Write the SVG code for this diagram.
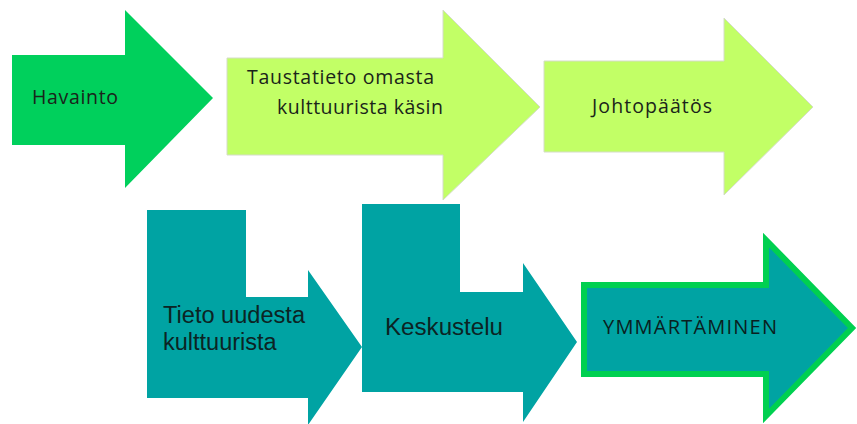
<svg xmlns="http://www.w3.org/2000/svg" width="857" height="424" viewBox="0 0 857 424">
<style>
.dg{fill:#00d05c}
.lg{fill:#c2ff66;stroke:#d4dcc8;stroke-width:1}
.tl{fill:#00a3a3}
.tl2{fill:#00a3a3;stroke:#00d050;stroke-width:6;stroke-linejoin:miter}
.t1{font-family:"Open Sans","DejaVu Sans",sans-serif;font-size:19.5px;fill:#1a241a}
.t2{font-family:"Liberation Sans",Arial,sans-serif;font-size:23.5px;fill:#0c2424}
.t3{font-family:"Open Sans","DejaVu Sans",sans-serif;font-size:20px;fill:#0a2020}
</style>
<rect width="857" height="424" fill="#ffffff"/>
<g id="connectors"/>
<g id="havainto">
<polygon class="dg" points="12,55 125,55 125,10 213,98 125,188 125,145 12,145"/>
<text class="t1" x="32" y="104" textLength="86" lengthAdjust="spacing">Havainto</text>
</g>
<g id="taustatieto">
<polygon class="lg" points="227,58 443,58 443,10 540,107 443,200 443,155 227,155"/>
<text class="t1" x="247" y="84" textLength="187" lengthAdjust="spacing">Taustatieto omasta</text>
<text class="t1" x="277" y="114" textLength="166" lengthAdjust="spacing">kulttuurista käsin</text>
</g>
<g id="johtopaatos">
<polygon class="lg" points="544,61 724,61 724,18 813,107 724,195 724,152 544,152"/>
<text class="t1" x="592" y="113" textLength="120" lengthAdjust="spacing">Johtopäätös</text>
</g>
<g id="tieto-uudesta">
<polygon class="tl" points="147,210 246,210 246,297 308,297 308,270 362,347 308,425 308,398 147,398"/>
<text class="t2" x="163" y="323" textLength="142" lengthAdjust="spacingAndGlyphs">Tieto uudesta</text>
<text class="t2" x="163" y="350">kulttuurista</text>
</g>
<g id="keskustelu">
<polygon class="tl" points="362,204 460,204 460,292 523,292 523,263 577,342 523,422 523,392 362,392"/>
<text class="t2" x="385" y="335" textLength="118" lengthAdjust="spacingAndGlyphs">Keskustelu</text>
</g>
<g id="ymmartaminen">
<polygon class="tl2" points="584,285 766,285 766,240 852,328 766,416 766,374 584,374"/>
<text class="t3" x="603" y="334" textLength="174" lengthAdjust="spacing">YMMÄRTÄMINEN</text>
</g>
</svg>
